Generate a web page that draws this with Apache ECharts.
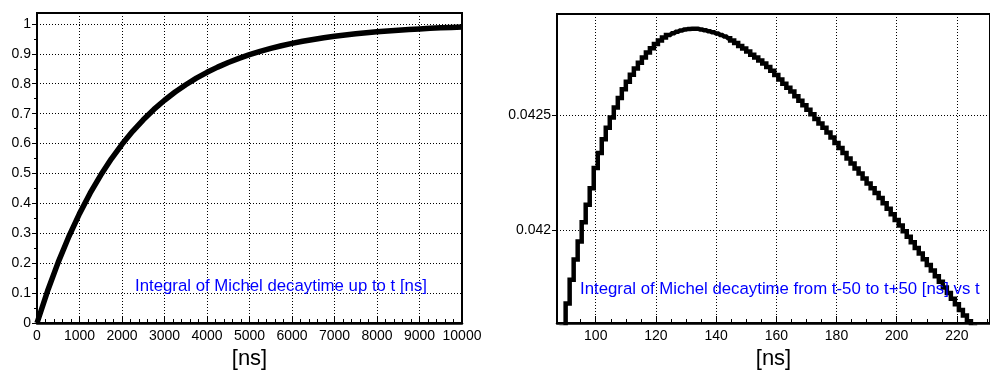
<!DOCTYPE html>
<html><head><meta charset="utf-8">
<script src="https://cdn.jsdelivr.net/npm/echarts@6/dist/echarts.min.js"></script>
<style>html,body{margin:0;padding:0;background:#fff}#c{width:990px;height:375px}</style>
</head><body><div id="c"></div>
<script>
// ---- Left panel: integral of Michel decay time up to t ----
const leftTimes = [0,250,500,750,1000,1250,1500,1750,2000,2250,2500,2750,3000,3250,3500,3750,4000,4250,4500,4750,5000,5250,5500,5750,6000,6250,6500,6750,7000,7250,7500,7750,8000,8250,8500,8750,9000,9250,9500,9750,10000];
const leftValues = [0,0.1076,0.2036,0.2892,0.3657,0.4339,0.4948,0.5491,0.5976,0.6409,0.6795,0.7140,0.7447,0.7722,0.7967,0.8186,0.8381,0.8555,0.8710,0.8849,0.8973,0.9083,0.9182,0.9270,0.9348,0.9419,0.9481,0.9537,0.9587,0.9631,0.9671,0.9706,0.9738,0.9766,0.9791,0.9814,0.9834,0.9852,0.9868,0.9882,0.9895];
const leftYTicks = [0,0.1,0.2,0.3,0.4,0.5,0.6,0.7,0.8,0.9,1];

// ---- Right panel: integral from t-50 to t+50 vs t (histogram, bin width 4/3 ns) ----
const rightFirstBin = 65;          // first bin index
const rightBinWidth = 4 / 3;       // ns
const rightValues = [0.041370,0.041475,0.041575,0.041680,0.041783,0.041872,0.041950,0.042034,0.042110,0.042182,
0.042270,0.042335,0.042395,0.042445,0.042490,0.042534,0.042575,0.042613,0.042646,0.042676,
0.042704,0.042729,0.042752,0.042773,0.042792,0.042810,0.042826,0.042839,0.042849,0.042857,
0.042864,0.042869,0.042873,0.042876,0.042877,0.042877,0.042874,0.042870,0.042866,0.042861,
0.042856,0.042850,0.042843,0.042835,0.042826,0.042815,0.042802,0.042791,0.042778,0.042764,
0.042751,0.042738,0.042725,0.042710,0.042694,0.042675,0.042656,0.042637,0.042620,0.042603,
0.042583,0.042563,0.042544,0.042524,0.042504,0.042484,0.042464,0.042445,0.042425,0.042403,
0.042379,0.042357,0.042335,0.042312,0.042290,0.042268,0.042246,0.042224,0.042203,0.042182,
0.042161,0.042140,0.042117,0.042093,0.042069,0.042044,0.042020,0.041995,0.041971,0.041947,
0.041922,0.041898,0.041873,0.041848,0.041824,0.041799,0.041775,0.041750,0.041726,0.041701,
0.041677,0.041652,0.041628,0.041603,0.041579,0.041554,0.041530,0.041505,0.041481];
const rightXTicks = [100,120,140,160,180,200,220];
const rightYTicks = [0.042,0.0425];

const leftData = leftTimes.map((t,i)=>[t,leftValues[i]]);
const rightData = rightValues.map((v,i)=>[(rightFirstBin+i)*rightBinWidth, v]);

const FONT = '"Liberation Sans", Arial, sans-serif';
const dotted = {color:'#000', width:1, type:[1,2]};
const LBL = {color:'#000', fontSize:14, fontFamily:FONT, margin:6};

const chart = echarts.init(document.getElementById('c'), null, {renderer:'canvas'});
chart.setOption({
  animation:false,
  backgroundColor:'#fff',
  grid:[
    {left:37, top:13, width:425, bottom:49.3, show:true, borderColor:'#000', borderWidth:2, backgroundColor:'transparent'},
    {left:557, top:14, right:-3, bottom:49.3, show:true, borderColor:'#000', borderWidth:2, backgroundColor:'transparent'}
  ],
  xAxis:[
    {type:'value', gridIndex:0, min:0, max:10000, interval:1000,
     axisLine:{show:true, onZero:false, lineStyle:{color:'#000', width:2.5}},
     axisTick:{show:true, inside:true, length:7, lineStyle:{color:'#000', width:1}},
     minorTick:{show:true, splitNumber:5, length:4, lineStyle:{color:'#000', width:1}},
     axisLabel:Object.assign({formatter:v=>String(v)}, LBL),
     splitLine:{show:true, lineStyle:dotted},
     name:'[ns]', nameLocation:'middle', nameGap:25, nameTextStyle:{fontSize:22, color:'#000', fontFamily:FONT}},
    {type:'value', gridIndex:1, min:87.13, max:231, splitNumber:7,
     axisLine:{show:true, onZero:false, lineStyle:{color:'#000', width:2.5}},
     axisTick:{show:true, inside:true, length:7, customValues:rightXTicks, lineStyle:{color:'#000', width:1}},
     minorTick:{show:true, splitNumber:4, length:4, lineStyle:{color:'#000', width:1}},
     axisLabel:Object.assign({customValues:rightXTicks, formatter:v=>String(v)}, LBL),
     splitLine:{show:true, lineStyle:dotted},
     name:'[ns]', nameLocation:'middle', nameGap:25, nameTextStyle:{fontSize:22, color:'#000', fontFamily:FONT}}
  ],
  yAxis:[
    {type:'value', gridIndex:0, min:0, max:1.0365, interval:0.1,
     axisLine:{show:true, onZero:false, lineStyle:{color:'#000', width:2}},
     axisTick:{show:true, inside:false, length:5, customValues:leftYTicks, lineStyle:{color:'#000', width:1}},
     minorTick:{show:true, splitNumber:2, length:3, lineStyle:{color:'#000', width:1}},
     axisLabel:Object.assign({customValues:leftYTicks, formatter:v=>String(v)}, LBL),
     splitLine:{show:true, lineStyle:dotted}},
    {type:'value', gridIndex:1, min:0.041595, max:0.042941,
     axisLine:{show:true, onZero:false, lineStyle:{color:'#000', width:2}},
     axisTick:{show:true, inside:false, length:5, customValues:rightYTicks, lineStyle:{color:'#000', width:1}},
     axisLabel:Object.assign({customValues:rightYTicks, formatter:v=>String(v)}, LBL),
     splitLine:{show:true, lineStyle:dotted}}
  ],
  series:[
    {type:'line', xAxisIndex:0, yAxisIndex:0, data:leftData, showSymbol:false, smooth:false,
     lineStyle:{color:'#000', width:5.5, join:'round'}, clip:true},
    {type:'line', xAxisIndex:1, yAxisIndex:1, data:rightData, showSymbol:false, step:'middle',
     lineStyle:{color:'#000', width:4.5, join:'miter', cap:'butt', miterLimit:10}, clip:true}
  ],
  graphic:[
    {type:'text', left:135, top:278, z:100, style:{text:'Integral of Michel decaytime up to t [ns]', fill:'#0000ff', font:'16.8px "Liberation Sans", Arial, sans-serif'}},
    {type:'text', left:580, top:281, z:100, style:{text:'Integral of Michel decaytime from t-50 to t+50 [ns] vs t', fill:'#0000ff', font:'16.8px "Liberation Sans", Arial, sans-serif'}}
  ]
});
</script></body></html>
